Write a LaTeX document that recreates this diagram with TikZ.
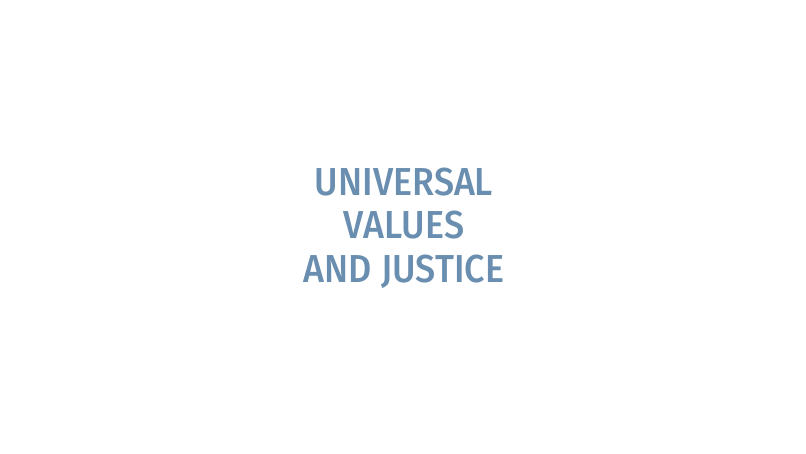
\documentclass[tikz,border=0pt]{standalone}
\usepackage{fontspec}
\setmainfont{Fira Sans}[BoldFont={Fira Sans Medium}, BoldFeatures={FakeStretch=0.92}]
\definecolor{titleblue}{RGB}{106,142,176}
\begin{document}
\begin{tikzpicture}[x=1pt,y=1pt,
  titleline/.style={anchor=base, inner sep=0pt, text=titleblue, font=\fontsize{39}{43}\selectfont\bfseries}]
\useasboundingbox (0,0) rectangle (806,453);
\node[titleline] (l1) at (404,257) {UNIVERSAL};
\node[titleline] (l2) at (404,214) {VALUES};
\node[titleline] (l3) at (404,171) {AND JUSTICE};
\end{tikzpicture}
\end{document}
